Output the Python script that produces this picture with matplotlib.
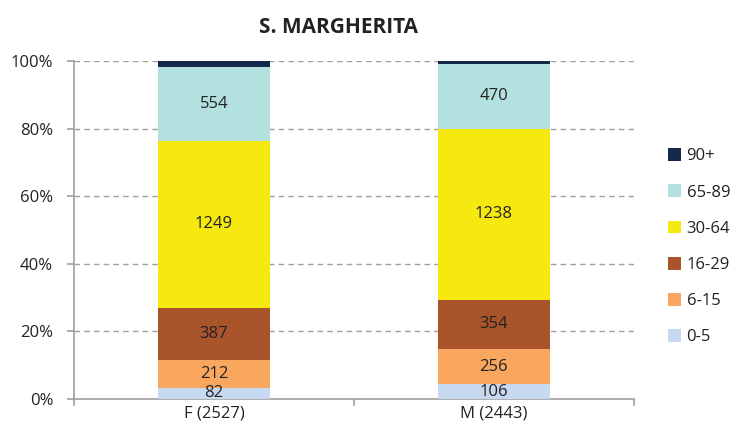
import numpy as np
import matplotlib.pyplot as plt
from matplotlib.patches import Patch

plt.rcParams['font.family'] = ['Open Sans', 'DejaVu Sans']

# data
groups = ['F (2527)', 'M (2443)']
age_classes = ['0-5', '6-15', '16-29', '30-64', '65-89', '90+']
counts_f = [82, 212, 387, 1249, 554, 43]
counts_m = [106, 256, 354, 1238, 470, 19]
colors = ['#c6d9f0', '#f9a65e', '#a9542a', '#f5e90f', '#b3e1df', '#13284a']
show_label = [True, True, True, True, True, False]

counts = np.array([counts_f, counts_m], dtype=float)
totals = counts.sum(axis=1)
pct = counts / totals[:, None] * 100

fig = plt.figure(figsize=(7.36, 4.36), dpi=100)
ax = fig.add_axes([0.1005, 0.085, 0.7605, 0.775])

x = np.arange(len(groups))
bottom = np.zeros(len(groups))
for i, lab in enumerate(age_classes):
    ax.bar(x, pct[:, i], bottom=bottom, width=0.4, color=colors[i], zorder=3, label=lab)
    if show_label[i]:
        for j in range(len(groups)):
            ax.text(x[j], bottom[j] + pct[j, i] / 2, str(int(counts[j, i])),
                    ha='center', va='center', fontsize=12, color='#222222', zorder=4)
    bottom += pct[:, i]

ax.set_xlim(-0.5, 1.5)
ax.set_ylim(0, 100)
ax.set_yticks(np.arange(0, 101, 20))
ax.set_yticklabels([f'{v}%' for v in range(0, 101, 20)], fontsize=12, color='#222222')
ax.set_xticks(x)
ax.set_xticklabels(groups, fontsize=12, color='#222222')
ax.set_xticks([-0.5, 0.5, 1.5], minor=True)
ax.tick_params(axis='x', which='major', length=0, pad=5)
ax.tick_params(axis='x', which='minor', length=5, color='#a0a0a0', width=1.2)
ax.tick_params(axis='y', length=5, color='#a0a0a0', width=1.2, pad=10)

for y in range(20, 101, 20):
    ax.axhline(y, color='#a0a0a0', linestyle=(0, (4, 3)), linewidth=1, zorder=1)

for s in ['top', 'right']:
    ax.spines[s].set_visible(False)
for s in ['left', 'bottom']:
    ax.spines[s].set_color('#a0a0a0')
    ax.spines[s].set_linewidth(1.2)

handles = [Patch(facecolor=c) for c in colors][::-1]
fig.legend(handles, age_classes[::-1], loc='center left', bbox_to_anchor=(0.908, 0.434),
           frameon=False, fontsize=12, handlelength=0.75, handleheight=0.8,
           handletextpad=0.35, labelspacing=1.2, labelcolor='#222222',
           borderaxespad=0, borderpad=0)

fig.suptitle('S. MARGHERITA', x=0.46, y=0.96, fontsize=15, fontweight='bold', color='#222222')

fig.savefig('out.png', dpi=100)
